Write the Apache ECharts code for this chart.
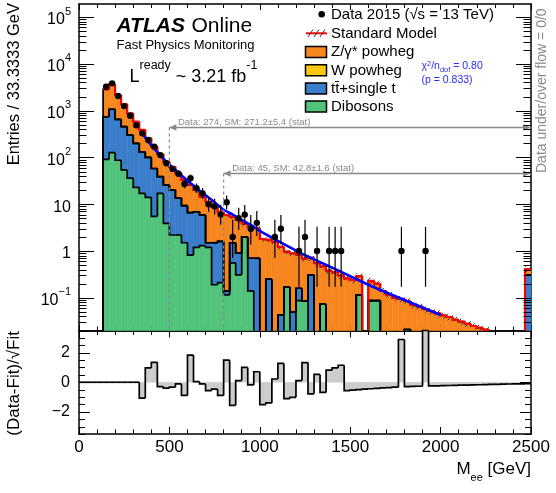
<!DOCTYPE html>
<html>
<head>
<meta charset="utf-8">
<script src="https://cdn.jsdelivr.net/npm/echarts@6.0.0/dist/echarts.min.js"></script>
<style>
html,body{margin:0;padding:0;background:#ffffff;}
#chart{width:556px;height:493px;}
</style>
</head>
<body>
<div id="chart"></div>
<script>
// ---------------- data ----------------
const massMin = 0;
const massMax = 2500;
const nBins = 75;

const dibosons = [
 0,0,0,0,91,126,87,54,36,23,
 17,14,5.5,17,3.9,2.2,2.2,1.5,0.82,1.2,
 1.3,1.2,0.19,0.21,0.115,0.56,0.31,2.0,0.14,0,
 0,0,0,0,0.17,0,0.087,0.085,0,0,
 0.073,0,0,0,0,0,0.115,0,0.087,0.087,
 0,0,0,0,0.021,0,0,0,0,0,
 0,0,0,0,0,0,0,0,0,0,
 0,0,0,0,0];

const ttbarSingleTop = [
 0,0,0,0,649,944,563,401,264,177,
 115,86,52.5,22,22.1,17.8,11.3,7.8,5.78,5.7,
 4.6,0.3,1.31,1.39,0.025,0.94,0.59,0,0.56,0.7,
 0,0.25,0,0.043,0,0.05,0.073,0,0.31,0,
 0,0,0,0,0,0,0,0,0,0,
 0,0,0,0,0,0,0,0,0,0,
 0,0,0,0,0,0,0,0,0,0,
 0,0,0,0,0.31];

const wPowheg = [
 0,0,0,0,0,0,0,0,0,0,
 0,0,0,0,0,0,0,0,0,0,
 0,0,0,0,0,0,0,0,0,0,
 0,0,0,0,0,0,0,0,0,0,
 0,0,0,0,0,0,0,0,0,0,
 0,0,0,0,0,0,0,0,0,0,
 0,0,0,0,0,0,0,0,0,0,
 0,0,0,0,0];

const zPowheg = [
 0,0,0,0,2110,2630,1500,925,570,380,
 258,160,112,79,55,43,32.5,23.7,19.4,13.1,
 8.6,9.8,7.3,5.3,5.76,3.9,3.7,1.9,2.6,2.4,
 1.8,1.5,1.58,1.19,0.8,0.84,0.68,0.605,0.41,0.55,
 0.397,0.38,0.35,0.3,0.26,0.24,0.175,0,0.143,0.113,
 0.14,0.115,0.1,0.095,0.064,0.07,0.065,0.057,0.052,0.047,
 0.042,0.039,0.034,0.031,0.028,0.025,0.023,0.021,0,0,
 0,0,0,0,0.1];

// relative statistical uncertainty of the SM total (hatched band)
const smRelErr = [
 0,0,0,0,0.01,0.01,0.01,0.01,0.015,0.015,
 0.02,0.02,0.02,0.025,0.025,0.03,0.03,0.035,0.035,0.04,
 0.05,0.05,0.06,0.07,0.08,0.1,0.12,0.12,0.1,0.1,
 0.12,0.12,0.14,0.14,0.12,0.12,0.14,0.14,0.16,0.15,
 0.15,0.15,0.15,0.15,0.15,0.15,0.16,0,0.16,0.16,
 0.16,0.15,0.15,0.15,0.15,0.15,0.15,0.15,0.15,0.15,
 0.15,0.15,0.15,0.15,0.15,0.15,0.15,0.15,0,0,
 0,0,0,0,0.15];

const dataCounts = [
 0,0,0,0,3240,3830,2050,1250,778,485,
 327,235,170,112,75,57,45,27,36,22,
 17,10,9,6,11,2,5,6,3,4,
 0,0,2,3,0,0,1,2,0,1,
 0,1,1,1,0,0,0,0,0,0,
 0,0,0,1,0,0,0,1,0,0,
 0,0,0,0,0,0,0,0,0,0,
 0,0,0,0,0];

const pullValues = [
 0,0,0,0,0,0,0,0,0,0,
 -1.07,0.97,1.35,-0.29,-0.4,-0.33,-0.11,-0.89,1.84,0.04,
 -0.11,-0.56,-0.47,-0.89,1.49,-1.56,0.11,1.0,-0.18,0.71,
 -1.51,-1.4,0.22,1.27,-1.11,-1.02,0.11,1.33,-0.78,0.53,
 -0.69,0.82,0.97,1.15,-0.56,-0.53,-0.5,-0.47,-0.44,-0.41,
 -0.38,-0.36,-0.33,2.89,-0.29,-0.28,-0.27,4.3,-0.25,-0.24,
 -0.23,-0.22,-0.21,-0.2,-0.19,-0.18,-0.17,-0.16,-0.15,-0.14,
 -0.13,-0.12,-0.11,-0.11,-0.1];

const fitMass  = [350,383,417,450,483,517,550,600,650,700,750,800,850,900,950,1000,1100,1200,1300,1400,1500,1600,1700,1800,1900,2000];
const fitValue = [330,220,153,112,80,61,47,32,22,15.5,11,7.6,6.0,4.6,3.6,2.7,1.65,1.02,0.66,0.44,0.29,0.19,0.13,0.09,0.062,0.043];

const xTickValues = [0,500,1000,1500,2000,2500];
const mainYTicks = [0.1,1,10,100,1000,10000,100000];
const pullYTicks = [-2,0,2];

const annotations = [
  {mass: 500, text: 'Data: 274, SM: 271.2\u00b15.4 (stat)', y: 127.5},
  {mass: 800, text: 'Data: 45, SM: 42.8\u00b11.6 (stat)', y: 173.5}
];

// ---------------- style ----------------
const FONT = '"Liberation Sans", Arial, Helvetica, sans-serif';
const C_Z = '#f7861e', C_W = '#fdc80f', C_TT = '#3a7dca', C_DB = '#52c37a';
const Y_MIN = 0.02, Y_MAX = 1.9e5;
const R_MIN = -3.5, R_MAX = 3.5;

const binW = (massMax - massMin) / nBins;
const edgeLo = i => massMin + i * binW;

// stacked cumulative sums (bottom -> top)
const stackOrder = [dibosons, ttbarSingleTop, wPowheg, zPowheg];
const cumul = [];
stackOrder.forEach((arr, k) => {
  cumul.push(arr.map((v, i) => v + (k ? cumul[k - 1][i] : 0)));
});
const zeroArr = dibosons.map(() => 0);
const smTotal = cumul[3];

// hatch pattern for the SM uncertainty band
const hatchCanvas = document.createElement('canvas');
hatchCanvas.width = 6; hatchCanvas.height = 6;
(function () {
  const g = hatchCanvas.getContext('2d');
  g.strokeStyle = '#222'; g.lineWidth = 0.9;
  g.beginPath(); g.moveTo(0, 6); g.lineTo(6, 0); g.stroke();
  g.beginPath(); g.moveTo(-1, 1); g.lineTo(1, -1); g.stroke();
  g.beginPath(); g.moveTo(5, 7); g.lineTo(7, 5); g.stroke();
})();

function fillItems(lower, upper) {
  return upper.map((u, i) => [edgeLo(i), edgeLo(i + 1), lower[i], u]);
}
function outlineItems(vals, skipFirstRise) {
  const first = vals.findIndex(v => v > 0);
  return vals.map((v, i) => [edgeLo(i), edgeLo(i + 1), (i && !(skipFirstRise && i === first)) ? vals[i - 1] : v, v]);
}

function logFillSeries(name, lower, upper, color, z) {
  return {
    name, type: 'custom', xAxisIndex: 0, yAxisIndex: 0, z, silent: true,
    data: fillItems(lower, upper),
    encode: {x: [0, 1], y: [3]},
    renderItem: (p, api) => {
      const lo = api.value(0), hi = api.value(1), b = api.value(2), t = api.value(3);
      if (!(t > b) || t <= Y_MIN) return null;
      const p1 = api.coord([lo, Math.min(t, Y_MAX)]);
      const p2 = api.coord([hi, Math.max(b, Y_MIN)]);
      return {type: 'rect', shape: {x: p1[0], y: p1[1], width: p2[0] - p1[0], height: p2[1] - p1[1]},
              style: {fill: color, stroke: color, lineWidth: 0.6}};
    }
  };
}

function logOutlineSeries(vals, color, width, z, skipFirstRise) {
  return {
    type: 'custom', xAxisIndex: 0, yAxisIndex: 0, z, silent: true,
    data: outlineItems(vals, skipFirstRise),
    encode: {x: [0, 1], y: [3]},
    renderItem: (p, api) => {
      const lo = api.value(0), hi = api.value(1), pv = api.value(2), cv = api.value(3);
      if (pv <= Y_MIN && cv <= Y_MIN) return null;
      const pc = Math.max(pv, Y_MIN), cc = Math.max(cv, Y_MIN);
      let pts;
      if (cv > Y_MIN) pts = [api.coord([lo, pc]), api.coord([lo, cc]), api.coord([hi, cc])];
      else pts = [api.coord([lo, pc]), api.coord([lo, Y_MIN])];
      return {type: 'polyline', shape: {points: pts}, style: {stroke: color, lineWidth: width, fill: null}};
    }
  };
}

// Poisson (Garwood-like) error bars via Wilson-Hilferty
function poisLow(n) { if (n <= 0) return 0; const a = 1 - 1 / (9 * n) - 1 / (3 * Math.sqrt(n)); return n * a * a * a; }
function poisHigh(n) { const m = n + 1; const a = 1 - 1 / (9 * m) + 1 / (3 * Math.sqrt(m)); return m * a * a * a; }

const dataItems = dataCounts.map((n, i) => [edgeLo(i) + binW / 2, n, poisLow(n), poisHigh(n)]);

const tickLogMinor = [];
for (let e = -2; e <= 5; e++) for (let k = 2; k <= 9; k++) {
  const v = k * Math.pow(10, e);
  if (v > Y_MIN * 1.0001 && v < Y_MAX) tickLogMinor.push(v);
}
const pullMinor = [];
for (let v = R_MIN; v <= R_MAX + 1e-9; v += 0.5) if (pullYTicks.indexOf(v) < 0) pullMinor.push(v);

function tickSeries(xi, yi, majors, minors, majLen, minLen) {
  return {
    type: 'custom', xAxisIndex: xi, yAxisIndex: yi, z: 20, silent: true,
    data: [[massMin, majors[0]]],
    renderItem: (p, api) => {
      const children = [];
      const xl = api.coord([massMin, majors[0]])[0];
      const xr = api.coord([massMax, majors[0]])[0];
      const add = (v, len) => {
        const y = Math.round(api.coord([massMin, v])[1]) + 0.5;
        children.push({type: 'line', shape: {x1: xl, y1: y, x2: xl + len, y2: y}, style: {stroke: '#000', lineWidth: 1}});
        children.push({type: 'line', shape: {x1: xr, y1: y, x2: xr - len, y2: y}, style: {stroke: '#000', lineWidth: 1}});
      };
      majors.forEach(v => add(v, majLen));
      minors.forEach(v => add(v, minLen));
      return {type: 'group', children};
    }
  };
}

const axisLineStyle = {show: true, onZero: false, lineStyle: {color: '#000', width: 1.5}};
function xAxisDef(grid, pos, labels, majLen, minLen) {
  return {
    type: 'value', gridIndex: grid, position: pos, min: massMin, max: massMax, interval: 500,
    axisLine: axisLineStyle, splitLine: {show: false},
    axisTick: {show: true, inside: true, length: majLen, lineStyle: {color: '#000', width: 1}},
    minorTick: {show: true, splitNumber: 5, length: minLen, lineStyle: {color: '#000', width: 1}},
    axisLabel: labels ? {show: true, margin: 5, color: '#000', fontSize: 17, fontFamily: FONT,
      formatter: v => (xTickValues.indexOf(Math.round(v)) >= 0 ? String(Math.round(v)) : '')} : {show: false}
  };
}

const supRich = {
  b: {fontSize: 16, fontFamily: FONT, color: '#000', lineHeight: 22, verticalAlign: 'bottom'},
  s: {fontSize: 11, fontFamily: FONT, color: '#000', lineHeight: 12, verticalAlign: 'top'}
};

function yLogDef(pos, labels) {
  return {
    type: 'log', logBase: 10, gridIndex: 0, position: pos, min: Y_MIN, max: Y_MAX,
    axisLine: axisLineStyle, splitLine: {show: false}, axisTick: {show: false}, minorTick: {show: false},
    axisLabel: labels ? {
      show: true, margin: 8, showMinLabel: false, showMaxLabel: false,
      formatter: v => {
        const e = Math.round(Math.log10(v));
        if (mainYTicks.indexOf(Math.pow(10, e)) < 0 || Math.abs(Math.log10(v) - e) > 1e-6) return '';
        if (e === 0) return '{b|1}';
        if (e === 1) return '{b|10}';
        return '{b|10}{s|' + (e < 0 ? '\u2212' + (-e) : e) + '}';
      },
      rich: supRich
    } : {show: false}
  };
}

function yPullDef(pos, labels) {
  return {
    type: 'value', gridIndex: 1, position: pos, min: R_MIN, max: R_MAX, interval: 0.5,
    axisLine: axisLineStyle, splitLine: {show: false}, axisTick: {show: false}, minorTick: {show: false},
    axisLabel: labels ? {
      show: true, margin: 9, color: '#000', fontSize: 16, fontFamily: FONT,
      formatter: v => {
        const r = Math.round(v * 10) / 10;
        if (pullYTicks.indexOf(r) < 0) return '';
        return r < 0 ? '\u2212' + (-r) : String(r);
      }
    } : {show: false}
  };
}

const series = [];
// stacked fills
series.push(logFillSeries('Z/\u03b3* powheg', cumul[2], cumul[3], C_Z, 2));
series.push(logFillSeries('W powheg', cumul[1], cumul[2], C_W, 2));
series.push(logFillSeries('tt\u0304+single t', cumul[0], cumul[1], C_TT, 2));
series.push(logFillSeries('Dibosons', zeroArr, cumul[0], C_DB, 2));
// outlines
series.push(logOutlineSeries(cumul[3], '#000', 1.7, 3, false));
series.push(logOutlineSeries(cumul[0], '#000', 1.7, 3, false));
series.push(logOutlineSeries(cumul[1], '#000', 1.7, 3, false));
series.push(logOutlineSeries(cumul[2], '#000', 1.7, 3, false));
// SM uncertainty band (hatched)
series.push({
  name: 'SM uncertainty', type: 'custom', xAxisIndex: 0, yAxisIndex: 0, z: 4, silent: true,
  data: smTotal.map((t, i) => [edgeLo(i), edgeLo(i + 1), t * (1 - smRelErr[i]), t * (1 + smRelErr[i])]),
  encode: {x: [0, 1], y: [3]},
  renderItem: (p, api) => {
    const lo = api.value(0), hi = api.value(1), b = api.value(2), t = api.value(3);
    if (!(t > b) || t <= Y_MIN) return null;
    const p1 = api.coord([lo, t]);
    const p2 = api.coord([hi, Math.max(b, Y_MIN)]);
    return {type: 'rect', shape: {x: p1[0], y: p1[1], width: p2[0] - p1[0], height: p2[1] - p1[1]},
            style: {fill: {image: hatchCanvas, repeat: 'repeat'}}};
  }
});
series.push(logOutlineSeries(smTotal, '#ff0000', 2, 4, true));
// fit
series.push({
  name: 'fit', type: 'line', xAxisIndex: 0, yAxisIndex: 0, z: 5, silent: true,
  data: fitMass.map((m, i) => [m, fitValue[i]]), showSymbol: false, smooth: 0.3,
  lineStyle: {color: '#0000ff', width: 2.6}
});
// data points
series.push({
  name: 'Data 2015', type: 'custom', xAxisIndex: 0, yAxisIndex: 0, z: 6, silent: true,
  data: dataItems, encode: {x: 0, y: 1},
  renderItem: (p, api) => {
    const n = api.value(1);
    if (!(n > 0)) return null;
    const c = api.coord([api.value(0), n]);
    const lo = api.coord([api.value(0), Math.max(api.value(2), Y_MIN)]);
    const hi = api.coord([api.value(0), Math.min(api.value(3), Y_MAX)]);
    return {type: 'group', children: [
      {type: 'line', shape: {x1: c[0], y1: lo[1], x2: c[0], y2: hi[1]}, style: {stroke: '#000', lineWidth: 1.2}},
      {type: 'circle', shape: {cx: c[0], cy: c[1], r: 3.2}, style: {fill: '#000'}}
    ]};
  }
});
// annotations (arrows and integrals)
series.push({
  type: 'custom', xAxisIndex: 0, yAxisIndex: 0, z: 7, silent: true,
  data: annotations.map(a => [a.mass, 1]),
  renderItem: (p, api) => {
    const a = annotations[p.dataIndex];
    const x0 = api.coord([a.mass, 1])[0];
    const xe = api.coord([massMax, 1])[0];
    const yb = api.coord([a.mass, Y_MIN])[1];
    const y = a.y, col = '#8a8a8a';
    return {type: 'group', children: [
      {type: 'line', shape: {x1: x0, y1: y, x2: xe, y2: y}, style: {stroke: col, lineWidth: 1.3}},
      {type: 'line', shape: {x1: x0, y1: y, x2: x0, y2: yb}, style: {stroke: col, lineWidth: 1.2, lineDash: [3, 3]}},
      {type: 'polygon', shape: {points: [[x0, y], [x0 + 7, y - 3.2], [x0 + 7, y + 3.2]]}, style: {fill: col}},
      {type: 'polygon', shape: {points: [[xe - 1, y], [xe - 8, y - 3.2], [xe - 8, y + 3.2]]}, style: {fill: col}},
      {type: 'text', style: {x: x0 + 8.5, y: y - 5.5, text: a.text, fill: col, font: '9.5px ' + FONT, verticalAlign: 'middle'}}
    ]};
  }
});
// pull panel
const pullFillItems = pullValues.map((v, i) => [edgeLo(i), edgeLo(i + 1), v]);
series.push({
  type: 'custom', xAxisIndex: 2, yAxisIndex: 2, z: 2, silent: true,
  data: pullFillItems, encode: {x: [0, 1], y: 2},
  renderItem: (p, api) => {
    const v = Math.max(R_MIN, Math.min(R_MAX, api.value(2)));
    if (v === 0) return null;
    const p1 = api.coord([api.value(0), Math.max(v, 0)]);
    const p2 = api.coord([api.value(1), Math.min(v, 0)]);
    return {type: 'rect', shape: {x: p1[0], y: p1[1], width: p2[0] - p1[0], height: p2[1] - p1[1]},
            style: {fill: '#cccccc', stroke: '#cccccc', lineWidth: 0.5}};
  }
});
series.push({
  type: 'custom', xAxisIndex: 2, yAxisIndex: 2, z: 3, silent: true,
  data: pullValues.map((v, i) => [edgeLo(i), edgeLo(i + 1), i ? pullValues[i - 1] : 0, v]),
  encode: {x: [0, 1], y: 3},
  renderItem: (p, api) => {
    const cl = v => Math.max(R_MIN, Math.min(R_MAX, v));
    const lo = api.value(0), hi = api.value(1), pv = cl(api.value(2)), cv = cl(api.value(3));
    const pts = [api.coord([lo, pv]), api.coord([lo, cv]), api.coord([hi, cv])];
    return {type: 'polyline', shape: {points: pts}, style: {stroke: '#000', lineWidth: 1.7, fill: null}};
  }
});
// custom ticks on y axes
series.push(tickSeries(0, 0, mainYTicks, tickLogMinor, 15, 7.5));
series.push(tickSeries(2, 2, pullYTicks, pullMinor, 11, 6));

// ---------------- text / legend ----------------
const legendX = 305.5, legendTextX = 331;
const legendRows = [
  {label: 'Z/\u03b3* powheg', color: C_Z, y: 52},
  {label: 'W powheg', color: C_W, y: 70.3},
  {label: 'tt\u0304+single t', color: C_TT, y: 88.6},
  {label: 'Dibosons', color: C_DB, y: 106.5}
];
const graphic = [
  {type: 'text', x: 116.5, y: 26, style: {text: 'ATLAS', font: 'italic bold 21px ' + FONT, fill: '#000', verticalAlign: 'middle'}},
  {type: 'text', x: 191.5, y: 26, style: {text: 'Online', font: '21px ' + FONT, fill: '#000', verticalAlign: 'middle'}},
  {type: 'text', x: 116.5, y: 45.5, style: {text: 'Fast Physics Monitoring', font: '13px ' + FONT, fill: '#000', verticalAlign: 'middle'}},
  {type: 'text', x: 129.5, y: 59, style: {
    text: '{a|L}{b|ready}{a| ~ 3.21 fb}{b|-1}', verticalAlign: 'top',
    rich: {a: {fontSize: 18, fontFamily: FONT, fill: '#000', lineHeight: 27, verticalAlign: 'bottom'},
           b: {fontSize: 12.5, fontFamily: FONT, fill: '#000', lineHeight: 13, verticalAlign: 'top'}}}},
  // legend
  {type: 'circle', shape: {cx: 321.7, cy: 14.3, r: 3.3}, style: {fill: '#000'}},
  {type: 'text', x: legendTextX, y: 14.5, style: {text: 'Data 2015 (\u221as = 13 TeV)', font: '15px ' + FONT, fill: '#000', verticalAlign: 'middle'}},
  {type: 'line', shape: {x1: 306, y1: 33.3, x2: 327, y2: 33.3}, style: {stroke: '#ff0000', lineWidth: 2}},
  {type: 'line', shape: {x1: 308, y1: 37, x2: 313, y2: 29.5}, style: {stroke: '#333', lineWidth: 1}},
  {type: 'line', shape: {x1: 314, y1: 37, x2: 319, y2: 29.5}, style: {stroke: '#333', lineWidth: 1}},
  {type: 'line', shape: {x1: 320, y1: 37, x2: 325, y2: 29.5}, style: {stroke: '#333', lineWidth: 1}},
  {type: 'text', x: legendTextX, y: 33.5, style: {text: 'Standard Model', font: '15px ' + FONT, fill: '#000', verticalAlign: 'middle'}},
  {type: 'text', x: 421.5, y: 66.5, style: {
    text: '{a|\u03c7}{p|2}{a|/n}{d|dof}{a| = 0.80}', verticalAlign: 'middle',
    rich: {a: {fontSize: 10.5, fontFamily: FONT, fill: '#2a2aff', lineHeight: 14, verticalAlign: 'middle'},
           p: {fontSize: 7.5, fontFamily: FONT, fill: '#2a2aff', lineHeight: 8, verticalAlign: 'top'},
           d: {fontSize: 7.5, fontFamily: FONT, fill: '#2a2aff', lineHeight: 8, verticalAlign: 'bottom'}}}},
  {type: 'text', x: 421.5, y: 80.5, style: {text: '(p = 0.833)', font: '10.5px ' + FONT, fill: '#2a2aff', verticalAlign: 'middle'}},
  // side texts
  {type: 'text', x: 542, y: 173, rotation: Math.PI / 2, style: {text: 'Data under/over flow = 0/0', font: '14px ' + FONT, fill: '#8a8a8a', align: 'left', verticalAlign: 'middle'}},
  {type: 'text', x: 14, y: 3, rotation: Math.PI / 2, style: {text: 'Entries / 33.3333 GeV', font: '16.5px ' + FONT, fill: '#000', align: 'right', verticalAlign: 'middle'}},
  {type: 'text', x: 14, y: 331, rotation: Math.PI / 2, style: {text: '(Data-Fit)/\u221aFit', font: '17px ' + FONT, fill: '#000', align: 'right', verticalAlign: 'middle'}},
  {type: 'text', x: 531, y: 472, style: {
    text: '{a|M}{s|ee}{a| [GeV]}', align: 'right', verticalAlign: 'middle',
    rich: {a: {fontSize: 17, fontFamily: FONT, fill: '#000', lineHeight: 22, verticalAlign: 'top'},
           s: {fontSize: 11, fontFamily: FONT, fill: '#000', lineHeight: 11, verticalAlign: 'bottom'}}}}
];
legendRows.forEach(r => {
  graphic.push({type: 'rect', shape: {x: legendX, y: r.y - 5.5, width: 21, height: 11}, style: {fill: r.color, stroke: '#000', lineWidth: 1.5}});
  graphic.push({type: 'text', x: legendTextX, y: r.y + 0.3, style: {text: r.label, font: '15px ' + FONT, fill: '#000', verticalAlign: 'middle'}});
});

const option = {
  animation: false,
  backgroundColor: '#ffffff',
  grid: [
    {left: 79, top: 4, width: 452, height: 326.5, containLabel: false, outerBoundsMode: 'none'},
    {left: 79, top: 330.5, width: 452, height: 103.5, containLabel: false, outerBoundsMode: 'none'}
  ],
  xAxis: [
    xAxisDef(0, 'bottom', false, 6, 4),
    xAxisDef(0, 'top', false, 6, 4),
    xAxisDef(1, 'bottom', true, 7, 4.5),
    xAxisDef(1, 'top', false, 7, 4.5)
  ],
  yAxis: [
    yLogDef('left', true),
    yLogDef('right', false),
    yPullDef('left', true),
    yPullDef('right', false)
  ],
  series,
  graphic
};

const chart = echarts.init(document.getElementById('chart'), null, {renderer: 'canvas'});
chart.setOption(option);
</script>
</body>
</html>
